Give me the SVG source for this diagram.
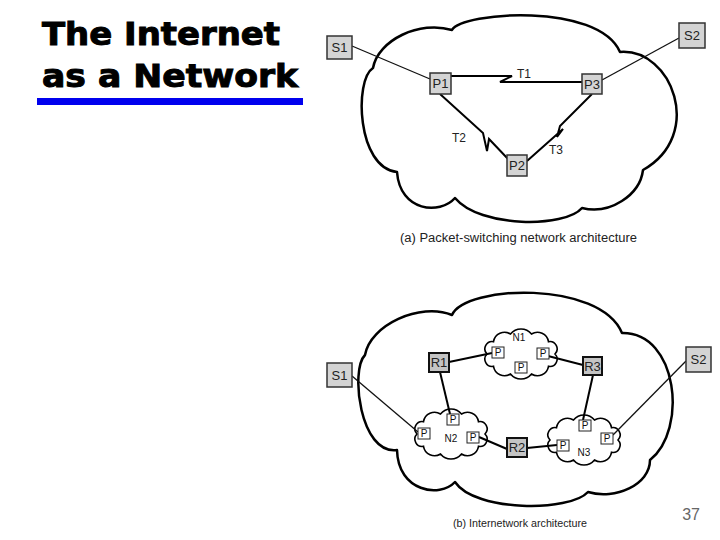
<svg xmlns="http://www.w3.org/2000/svg" width="720" height="540" viewBox="0 0 720 540">
<style>
.title{font-family:"DejaVu Sans","Liberation Sans",sans-serif;font-weight:bold;font-size:32px;fill:#000;stroke:#000;stroke-width:1}
.cloud{fill:none;stroke:#000;stroke-width:2.5;stroke-linejoin:round}
.sub{fill:#fff;stroke:#000;stroke-width:1.6}
.box{fill:#d4d4d4;stroke:#333;stroke-width:1.5}
.rbox{fill:#c4c4c4;stroke:#111;stroke-width:2}
.pbox{fill:#fff;stroke:#222;stroke-width:1}
.lbl{font-family:"Liberation Sans",Arial,sans-serif;font-size:13px;fill:#222;text-anchor:middle}
.plbl{font-family:"Liberation Sans",Arial,sans-serif;font-size:10px;fill:#111;text-anchor:middle}
.tl{font-family:"Liberation Sans",Arial,sans-serif;font-size:12px;fill:#222}
.thin{fill:none;stroke:#111;stroke-width:1.3}
.thick{fill:none;stroke:#000;stroke-width:2;stroke-linejoin:miter}
.cap{font-family:"Liberation Sans",Arial,sans-serif;fill:#222;text-anchor:middle}
</style>
<defs>
<path id="subcloud" d="M34,0 A7.3,7.3 0 0 1 27.5,12.3 A11.2,11.2 0 0 1 10.5,20 A13.5,13.5 0 0 1 -10.5,20 A11.2,11.2 0 0 1 -27.5,12.3 A7.3,7.3 0 0 1 -34,0 A7.3,7.3 0 0 1 -27.5,-12.3 A11.2,11.2 0 0 1 -10.5,-20 A13.5,13.5 0 0 1 10.5,-20 A11.2,11.2 0 0 1 27.5,-12.3 A7.3,7.3 0 0 1 34,0 Z"/>
</defs>

<g id="title">
<text class="title" x="42" y="45" textLength="238" lengthAdjust="spacingAndGlyphs">The Internet</text>
<text class="title" x="42" y="87" textLength="256" lengthAdjust="spacingAndGlyphs">as a Network</text>
<rect x="37" y="98" width="266" height="7" fill="#0000ee"/>
</g>

<!-- (a) packet-switching network -->
<g id="cloud-a">
<path class="cloud" d="M373,68 C378,40 420,20 452,30 C462,12 598,2 620,52 C672,48 705,135 643,170 C640,195 610,215 582,208 C565,228 480,228 455,198 C440,215 400,212 397,172 C357,168 354,80 373,68 Z"/>
</g>
<g id="connectors-a">
<path class="thin" d="M352,46 L430,79"/>
<path class="thin" d="M679,38 L602,80"/>
<path class="thick" d="M451,76 L512,76 L500,82 L582,82"/>
<path class="thick" d="M440,94 L483,133 L487,151 L489,139 L509,160"/>
<path class="thick" d="M592,94 L560,126 L557,137 L563,129 L527,161"/>
</g>
<g id="link-labels-a">
<text class="tl" x="517" y="78">T1</text>
<text class="tl" x="452" y="142">T2</text>
<text class="tl" x="549" y="154">T3</text>
</g>
<g id="a-S1"><rect class="box" x="327" y="36" width="25" height="23"/><text class="lbl" x="339.5" y="52">S1</text></g>
<g id="a-S2"><rect class="box" x="679" y="23" width="26" height="25"/><text class="lbl" x="692" y="40">S2</text></g>
<g id="a-P1"><rect class="box" x="430" y="73" width="21" height="21"/><text class="lbl" x="440.5" y="88">P1</text></g>
<g id="a-P3"><rect class="box" x="582" y="74" width="20" height="20"/><text class="lbl" x="592" y="88.5">P3</text></g>
<g id="a-P2"><rect class="box" x="507" y="155" width="20" height="21"/><text class="lbl" x="517" y="170">P2</text></g>
<text class="cap" x="518.5" y="242" font-size="12" textLength="237" lengthAdjust="spacingAndGlyphs">(a) Packet-switching network architecture</text>

<!-- (b) internetwork -->
<g id="cloud-b">
<path class="cloud" d="M365,355 C370,325 420,302 452,315 C465,285 600,280 622,333 C678,332 688,430 650,460 C650,485 615,500 588,492 C570,512 475,512 455,482 C440,498 398,492 397,450 C360,455 350,370 365,355 Z"/>
</g>
<g id="N1"><use href="#subcloud" x="521" y="354" class="sub"/><text class="plbl" x="519" y="341" font-size="11">N1</text></g>
<g id="N2"><use href="#subcloud" x="451" y="434" class="sub"/><text class="plbl" x="451" y="442" font-size="11">N2</text></g>
<g id="N3"><use href="#subcloud" x="584" y="440" class="sub"/><text class="plbl" x="584" y="456" font-size="11">N3</text></g>
<g id="connectors-b">
<path class="thick" d="M449,362 L492,353"/>
<path class="thick" d="M548,356 L583,365"/>
<path class="thick" d="M440,372 L450,414"/>
<path class="thick" d="M593,375 L583,420"/>
<path class="thick" d="M479,437 L507,449"/>
<path class="thick" d="M527,448 L557,445"/>
<path class="thin" d="M352,376 L418,432"/>
<path class="thin" d="M686,361 L613,435"/>
</g>
<g id="N1-P1"><rect class="pbox" x="492" y="347" width="12" height="11"/><text class="plbl" x="498" y="356">P</text></g>
<g id="N1-P2"><rect class="pbox" x="537" y="348" width="12" height="11"/><text class="plbl" x="543" y="357">P</text></g>
<g id="N1-P3"><rect class="pbox" x="515" y="362" width="12" height="11"/><text class="plbl" x="521" y="371">P</text></g>
<g id="N2-P1"><rect class="pbox" x="447" y="414" width="12" height="11"/><text class="plbl" x="453" y="423">P</text></g>
<g id="N2-P2"><rect class="pbox" x="418" y="428" width="12" height="11"/><text class="plbl" x="424" y="437">P</text></g>
<g id="N2-P3"><rect class="pbox" x="467" y="432" width="12" height="11"/><text class="plbl" x="473" y="441">P</text></g>
<g id="N3-P1"><rect class="pbox" x="579" y="420" width="12" height="11"/><text class="plbl" x="585" y="429">P</text></g>
<g id="N3-P2"><rect class="pbox" x="557" y="440" width="12" height="11"/><text class="plbl" x="563" y="449">P</text></g>
<g id="N3-P3"><rect class="pbox" x="601" y="433" width="12" height="11"/><text class="plbl" x="607" y="442">P</text></g>
<g id="b-S1"><rect class="box" x="327" y="363" width="25" height="24"/><text class="lbl" x="339.5" y="379.5">S1</text></g>
<g id="b-S2"><rect class="box" x="686" y="347" width="25" height="25"/><text class="lbl" x="698.5" y="364">S2</text></g>
<g id="R1"><rect class="rbox" x="429" y="353" width="20" height="19"/><text class="lbl" x="439" y="367">R1</text></g>
<g id="R3"><rect class="rbox" x="583" y="357" width="19" height="18"/><text class="lbl" x="592.5" y="370.5">R3</text></g>
<g id="R2"><rect class="rbox" x="507" y="438" width="20" height="19"/><text class="lbl" x="517" y="452">R2</text></g>
<text class="cap" x="520" y="527" font-size="11" textLength="134" lengthAdjust="spacingAndGlyphs">(b) Internetwork architecture</text>
<text x="700" y="520" font-family="'Liberation Sans',Arial,sans-serif" font-size="16" fill="#666" text-anchor="end">37</text>
</svg>
